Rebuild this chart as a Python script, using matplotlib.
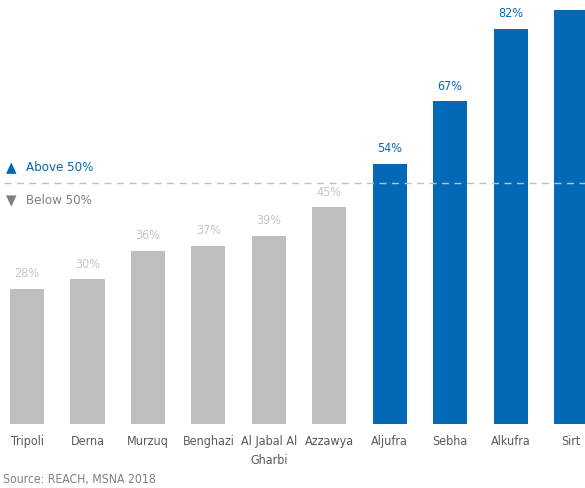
import numpy as np
import matplotlib.pyplot as plt

plt.rcParams['font.family'] = ['DejaVu Sans']
plt.rcParams['font.stretch'] = 'condensed'

cities = ["Tripoli", "Derna", "Murzuq", "Benghazi", "Al Jabal Al\nGharbi",
          "Azzawya", "Aljufra", "Sebha", "Alkufra", "Sirt"]
values = [28, 30, 36, 37, 39, 45, 54, 67, 82, 86]
threshold = 50

BLUE = "#0369b6"
GREY_BAR = "#bdbec0"
GREY_LABEL = "#c4c4c4"
TEXT = "#5a5a5a"

fig = plt.figure(figsize=(5.85, 4.88), dpi=100)
ax = fig.add_axes([0, 64 / 488, 1, 424 / 488])

x = np.arange(len(cities))
colors = [BLUE if v > threshold else GREY_BAR for v in values]
ax.bar(x, values, width=0.565, color=colors)

ymax = 88
for xi, v in zip(x, values):
    # the label of the tallest bar falls outside the picture in the original
    if v + 6 > ymax:
        continue
    ax.text(xi, v + 1.8, f"{v}%", ha="center", va="bottom", fontsize=9,
            color=BLUE if v > threshold else GREY_LABEL)

ax.set_xlim(-0.447, 9.23)
ax.set_ylim(0, ymax)

# threshold line and legend
ax.plot([-0.38, 9.23], [threshold, threshold], ls=(0, (5, 4)), color="#bfbfbf", lw=1)
ax.text(-0.34, threshold + 3.3, "\u25B2", color=BLUE, fontsize=11, va="center", ha="left")
ax.text(-0.02, threshold + 3.3, "Above 50%", color=BLUE, fontsize=9.5, va="center", ha="left")
ax.text(-0.34, threshold - 3.6, "\u25BC", color="#808080", fontsize=11, va="center", ha="left")
ax.text(-0.02, threshold - 3.6, "Below 50%", color="#808080", fontsize=9.5, va="center", ha="left")

ax.set_xticks(x)
ax.set_xticklabels(cities, fontsize=9, color=TEXT, linespacing=1.6)
ax.tick_params(axis="x", length=0, pad=8)
ax.set_yticks([])
for s in ax.spines.values():
    s.set_visible(False)

fig.text(3 / 585, 1 - 479 / 488, "Source: REACH, MSNA 2018", fontsize=8.7,
         color="#808080", va="center", ha="left")

fig.savefig("out.png", dpi=100)
